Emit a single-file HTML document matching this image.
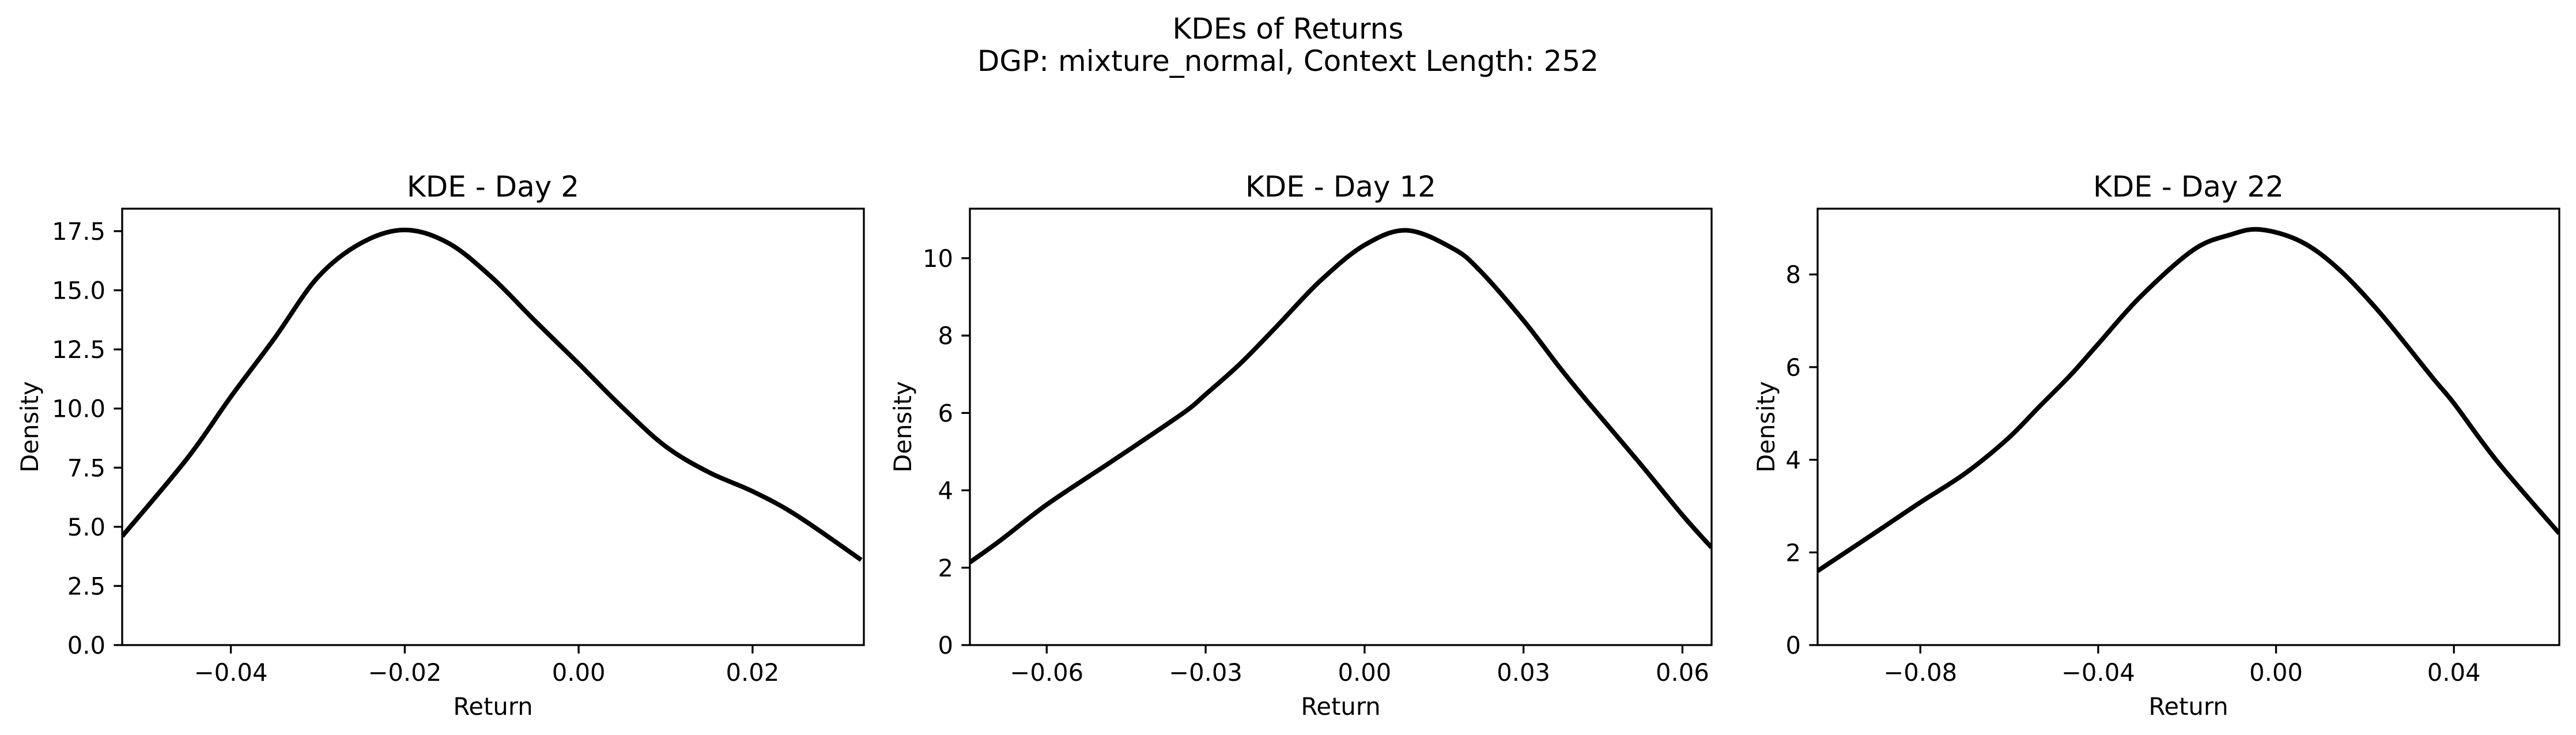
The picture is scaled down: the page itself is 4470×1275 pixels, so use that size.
<!DOCTYPE html>
<html><head><meta charset="utf-8"><style>
html,body{margin:0;padding:0;background:#fff;}
svg{display:block;font-family:"DejaVu Sans","Liberation Sans",sans-serif;}
</style></head><body>
<svg id="fig" width="4470" height="1275" viewBox="0 0 4470 1275" xmlns="http://www.w3.org/2000/svg">
<rect width="4470" height="1275" fill="#fff"/>
<text x="2235" y="67" font-size="50" text-anchor="middle">KDEs of Returns</text>
<text x="2235" y="123" font-size="50" text-anchor="middle">DGP: mixture_normal, Context Length: 252</text>
</svg>
<script>
const day2X = [-0.0525,-0.045,-0.04,-0.035,-0.03,-0.025,-0.02,-0.015,-0.01,-0.005,0,0.005,0.01,0.015,0.02,0.025,0.0325];
const day2Y = [4.6,7.9,10.5,12.96,15.55,17.0,17.55,17.0,15.55,13.7,11.9,10.06,8.4,7.3,6.5,5.5,3.6];
const day12X = [-0.0745,-0.0688,-0.06,-0.0487,-0.0416,-0.0336,-0.03,-0.0235,-0.0165,-0.0084,0,0.008,0.0167,0.0217,0.03,0.0368,0.0418,0.0519,0.06,0.0655];
const day12Y = [2.14,2.7,3.63,4.66,5.31,6.06,6.48,7.27,8.25,9.41,10.34,10.72,10.25,9.69,8.39,7.18,6.34,4.71,3.36,2.52];
const day22X = [-0.1031,-0.0904,-0.08,-0.07,-0.0605,-0.0533,-0.0461,-0.04,-0.0305,-0.0186,-0.0102,-0.0036,0.0054,0.0138,0.0234,0.0353,0.04,0.0497,0.0637];
const day22Y = [1.6,2.41,3.08,3.7,4.44,5.14,5.84,6.5,7.52,8.53,8.86,8.97,8.72,8.14,7.17,5.76,5.22,3.97,2.41];
const day2XTicks = [-0.04,-0.02,0,0.02];
const day2XTickLabels = ["\u22120.04","\u22120.02","0.00","0.02"];
const day2YTicks = [0,2.5,5,7.5,10,12.5,15,17.5];
const day2YTickLabels = ["0.0","2.5","5.0","7.5","10.0","12.5","15.0","17.5"];
const day12XTicks = [-0.06,-0.03,0,0.03,0.06];
const day12XTickLabels = ["\u22120.06","\u22120.03","0.00","0.03","0.06"];
const day12YTicks = [0,2,4,6,8,10];
const day12YTickLabels = ["0","2","4","6","8","10"];
const day22XTicks = [-0.08,-0.04,0,0.04];
const day22XTickLabels = ["\u22120.08","\u22120.04","0.00","0.04"];
const day22YTicks = [0,2,4,6,8];
const day22YTickLabels = ["0","2","4","6","8"];
const titles = ["KDE - Day 2","KDE - Day 12","KDE - Day 22"];

const NS = "http://www.w3.org/2000/svg";
const svg = document.getElementById('fig');
function mk(tag, attrs, parent){const e=document.createElementNS(NS,tag);for(const k in attrs)e.setAttribute(k,attrs[k]);(parent||svg).appendChild(e);return e;}

const panels = [
 {left:212, xs:day2X, ys:day2Y, xmin:-0.0525, xmax:0.0328, ymax:18.45, xt:day2XTicks, xl:day2XTickLabels, yt:day2YTicks, yl:day2YTickLabels, ylx:51, key:'day2'},
 {left:1683, xs:day12X, ys:day12Y, xmin:-0.0745, xmax:0.0655, ymax:11.28, xt:day12XTicks, xl:day12XTickLabels, yt:day12YTicks, yl:day12YTickLabels, ylx:1566, key:'day12'},
 {left:3154, xs:day22X, ys:day22Y, xmin:-0.1031, xmax:0.0637, ymax:9.42, xt:day22XTicks, xl:day22XTickLabels, yt:day22YTicks, yl:day22YTickLabels, ylx:3064, key:'day22'}
];
const W=1287, TOP=362, BOT=1119;

panels.forEach((p,i)=>{
  const g = mk('g',{});
  
  
  const sx = v => p.left + (v-p.xmin)/(p.xmax-p.xmin)*W;
  const sy = v => BOT - v/p.ymax*(BOT-TOP);
  const pts = p.xs.map((x,j)=>[sx(x),sy(p.ys[j])]);
  let d = 'M'+pts[0][0]+','+pts[0][1];
  for(let j=0;j<pts.length-1;j++){
    const p0=pts[Math.max(0,j-1)],p1=pts[j],p2=pts[j+1],p3=pts[Math.min(pts.length-1,j+2)];
    const c1=[p1[0]+(p2[0]-p0[0])/6,p1[1]+(p2[1]-p0[1])/6];
    const c2=[p2[0]-(p3[0]-p1[0])/6,p2[1]-(p3[1]-p1[1])/6];
    d+=' C'+c1[0]+','+c1[1]+' '+c2[0]+','+c2[1]+' '+p2[0]+','+p2[1];
  }
  const cp = mk('clipPath',{id:'clip'+i},g);
  mk('rect',{x:p.left,y:TOP,width:W,height:BOT-TOP},cp);
  const line = mk('path',{d:d,fill:'none',stroke:'#000','stroke-width':8,'clip-path':'url(#clip'+i+')','stroke-linejoin':'round'},g);
  
  
  const frame = mk('rect',{x:p.left,y:TOP,width:W,height:BOT-TOP,fill:'none',stroke:'#000','stroke-width':3.3},g);
  
  
  p.xt.forEach((t,j)=>{
    const x=sx(t);
    mk('line',{x1:x,x2:x,y1:BOT,y2:BOT+14.6,stroke:'#000','stroke-width':3.3},g);
    const tl = mk('text',{x:x,y:1181,'font-size':41.7,'text-anchor':'middle'},g);
    tl.textContent=p.xl[j];
    
    
  });
  p.yt.forEach((t,j)=>{
    const y=sy(t);
    mk('line',{x1:p.left-14.6,x2:p.left,y1:y,y2:y,stroke:'#000','stroke-width':3.3},g);
    const tl = mk('text',{x:p.left-29,y:y+15,'font-size':41.7,'text-anchor':'end'},g);
    tl.textContent=p.yl[j];
    
    
  });
  const ti = mk('text',{x:p.left+W/2,y:341,'font-size':50,'text-anchor':'middle'},g);
  ti.textContent=titles[i];
  
  
  const xl = mk('text',{x:p.left+W/2,y:1240,'font-size':41.7,'text-anchor':'middle'},g);
  xl.textContent='Return';
  
  
  const yl = mk('text',{x:0,y:0,'font-size':41.7,'text-anchor':'middle',transform:'translate('+(p.ylx+15)+','+((TOP+BOT)/2)+') rotate(-90)'},g);
  yl.textContent='Density';
  
  
});
</script>
</body></html>
